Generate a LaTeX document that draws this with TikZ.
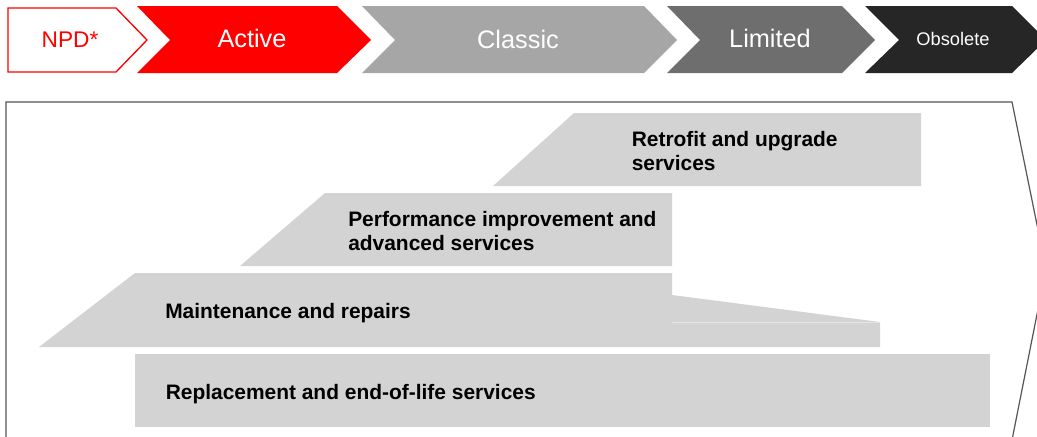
\documentclass[tikz,border=0pt]{standalone}
\usepackage{fontspec}
\setmainfont{Liberation Sans}
\definecolor{npdred}{HTML}{FF0000}
\definecolor{classicgray}{HTML}{A6A6A6}
\definecolor{limitedgray}{HTML}{6E6E6E}
\definecolor{obsoletegray}{HTML}{262626}
\definecolor{bandgray}{HTML}{D3D3D3}
\definecolor{seamgray}{HTML}{E4E4E4}
\definecolor{boxline}{HTML}{555555}
\tikzset{
  chevtext/.style={inner sep=0pt, anchor=base, text=white, font=\fontsize{19}{22}\selectfont},
  bandtext/.style={inner sep=0pt, anchor=base west, align=left, text=black,
                   font=\fontsize{15.7}{18}\selectfont\bfseries},
  band/.style={fill=bandgray, draw=none},
}
\begin{document}
\begin{tikzpicture}[x=0.75pt,y=-0.75pt]
\useasboundingbox (0,0) rectangle (1037,436);
\clip (0,0) rectangle (1037,436);
% top chevrons
\draw[npdred, line width=1pt] (8,8) -- (116,8) -- (147,40) -- (116,72) -- (8,72) -- cycle;
\fill[npdred] (137,6) -- (337,6) -- (371,40) -- (337,73) -- (137,73) -- (170,40) -- cycle;
\fill[classicgray] (362,6) -- (644,6) -- (677,40) -- (644,73) -- (362,73) -- (395,40) -- cycle;
\fill[limitedgray] (667,6) -- (842,6) -- (875,40) -- (842,73) -- (667,73) -- (700,40) -- cycle;
\fill[obsoletegray] (865,6) -- (1012,6) -- (1046,40) -- (1012,73) -- (865,73) -- (899,40) -- cycle;
\node[chevtext, text=npdred, font=\fontsize{17}{20}\selectfont] (npd) at (70,47) {NPD*};
\node[chevtext] (active) at (252,47) {Active};
\node[chevtext] (classic) at (518,48) {Classic};
\node[chevtext] (limited) at (770,47) {Limited};
\node[chevtext, font=\fontsize{13.7}{16}\selectfont] (obsolete) at (953,45.5) {Obsolete};
% outline box
\draw[boxline, line width=0.9pt] (6,440) -- (6,102) -- (1012,102) -- (1046,269) -- (1012,440);
% bands
\path[band] (493,186) -- (574,113) -- (921,113) -- (921,186) -- cycle;
\path[band] (240,266) -- (325,193) -- (672,193) -- (672,266) -- cycle;
\path[band] (39,347) -- (135,273) -- (672,273) -- (672,295) -- (880,322) -- (880,347) -- cycle;
\draw[seamgray, line width=0.5pt] (672,322) -- (880,322);
\path[band] (135,354) rectangle (990,427);
\node[bandtext] (retrofit) at (631.5,170) {Retrofit and upgrade\\services};
\node[bandtext] (perf) at (348,250) {Performance improvement and\\advanced services};
\node[bandtext] (maint) at (165,318.3) {Maintenance and repairs};
\node[bandtext] (repl) at (165.5,399.3) {Replacement and end-of-life services};
\end{tikzpicture}
\end{document}
